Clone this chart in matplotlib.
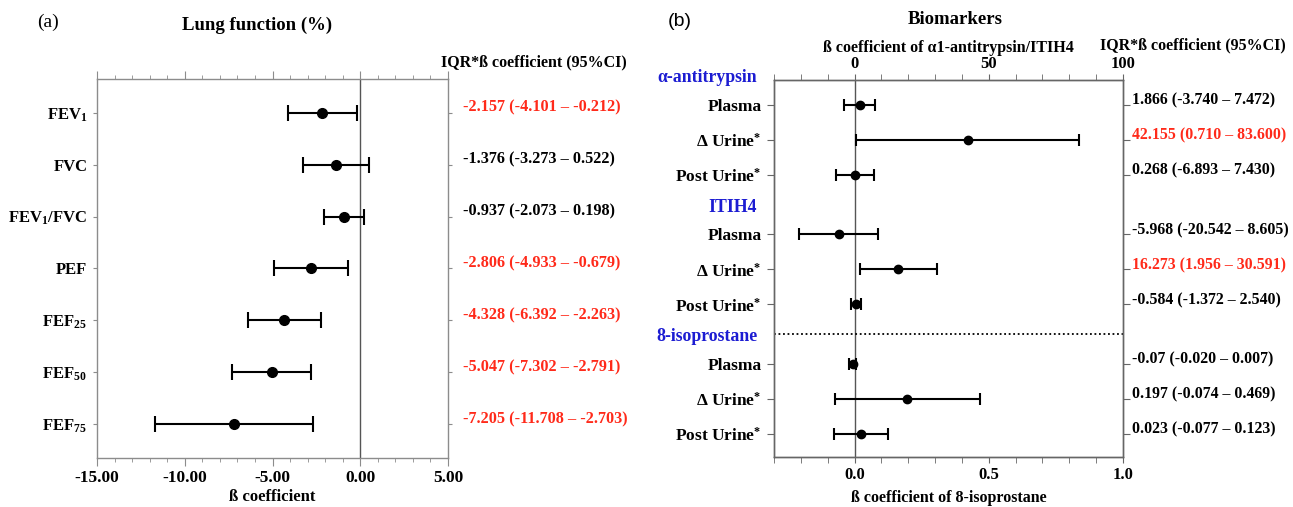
import matplotlib
matplotlib.use('Agg')
import matplotlib.pyplot as plt
import numpy as np
from matplotlib.ticker import MultipleLocator, FormatStrFormatter

plt.rcParams['font.family'] = ['Liberation Serif', 'DejaVu Serif']
plt.rcParams['font.weight'] = 'bold'
plt.rcParams['axes.labelweight'] = 'bold'
plt.rcParams['mathtext.fontset'] = 'custom'
plt.rcParams['mathtext.rm'] = 'Liberation Serif:bold'
plt.rcParams['mathtext.bf'] = 'Liberation Serif:bold'
plt.rcParams['mathtext.it'] = 'Liberation Serif:bold'

RED = '#ff2a1a'
BLUE = '#1c1cd2'
SPINE = '#8c8c8c'

# ---- (a) lung function ----
lung_labels = ['FEV$_{1}$', 'FVC', 'FEV$_{1}$/FVC', 'PEF', 'FEF$_{25}$', 'FEF$_{50}$', 'FEF$_{75}$']
lung_beta = [-2.157, -1.376, -0.937, -2.806, -4.328, -5.047, -7.205]
lung_lo = [-4.101, -3.273, -2.073, -4.933, -6.392, -7.302, -11.708]
lung_hi = [-0.212, 0.522, 0.198, -0.679, -2.263, -2.791, -2.703]
lung_text = ['-2.157 (-4.101 – -0.212)', '-1.376 (-3.273 – 0.522)', '-0.937 (-2.073 – 0.198)',
             '-2.806 (-4.933 – -0.679)', '-4.328 (-6.392 – -2.263)', '-5.047 (-7.302 – -2.791)',
             '-7.205 (-11.708 – -2.703)']
lung_sig = [True, False, False, True, True, True, True]

# ---- (b) biomarkers ----
groups = ['α-antitrypsin', 'ITIH4', '8-isoprostane']
bio_labels = ['Plasma', 'Δ Urine$^{*}$', 'Post Urine$^{*}$']
a1_beta = [1.866, 42.155, 0.268]
a1_lo = [-3.740, 0.710, -6.893]
a1_hi = [7.472, 83.600, 7.430]
itih4_beta = [-5.968, 16.273, 0.584]
itih4_lo = [-20.542, 1.956, -1.372]
itih4_hi = [8.605, 30.591, 2.540]
iso_beta = [-0.007, 0.197, 0.023]
iso_lo = [-0.020, -0.074, -0.077]
iso_hi = [0.007, 0.469, 0.123]
bio_text = ['1.866 (-3.740 – 7.472)', '42.155 (0.710 – 83.600)', '0.268 (-6.893 – 7.430)',
            '-5.968 (-20.542 – 8.605)', '16.273 (1.956 – 30.591)', '-0.584 (-1.372 – 2.540)',
            '-0.07 (-0.020 – 0.007)', '0.197 (-0.074 – 0.469)', '0.023 (-0.077 – 0.123)']
bio_sig = [False, True, False, False, True, False, False, False, False]

fig = plt.figure(figsize=(12.93, 5.07), dpi=100)


def style_spines(ax, color):
    for s in ax.spines.values():
        s.set_color(color)
        s.set_linewidth(1.0)


def errbars(ax, x, y, lo, hi, ms, cs):
    x = np.array(x)
    err = [x - np.array(lo), np.array(hi) - x]
    ax.errorbar(x, y, xerr=err, fmt='o', color='black', ms=ms, capsize=cs,
                elinewidth=1.5, capthick=1.5, zorder=3)


# ---------------- panel (a) ----------------
ax = fig.add_axes([97 / 1293, 1 - 458 / 507, 351 / 1293, 379 / 507])
y = np.arange(len(lung_labels))
ax.axvline(0, color='#555555', lw=1.0, zorder=1)
errbars(ax, lung_beta, y, lung_lo, lung_hi, ms=7, cs=5.5)
ax.set_xlim(-15, 5)
ax.set_ylim(len(lung_labels) - 0.35, -0.65)
ax.set_yticks(y)
ax.set_yticklabels(lung_labels, fontsize=12)
ax.xaxis.set_major_locator(MultipleLocator(5))
ax.xaxis.set_minor_locator(MultipleLocator(1))
ax.xaxis.set_major_formatter(FormatStrFormatter('%.2f'))
ax.tick_params(axis='x', which='major', direction='out', length=6, color=SPINE,
               top=True, bottom=True, labelsize=12.5, pad=3)
ax.tick_params(axis='x', which='minor', direction='out', length=3, color=SPINE, top=True, bottom=True)
ax.tick_params(axis='y', direction='out', length=3, color=SPINE, left=True, right=True, pad=4)
ax.set_xlabel('ß coefficient', fontsize=12, labelpad=2)
style_spines(ax, SPINE)
for i, t in enumerate(lung_text):
    ax.text(1.043, i - 0.1, t, transform=ax.get_yaxis_transform(), ha='left', va='center',
            fontsize=11.7, color=RED if lung_sig[i] else 'black')
fig.text(534 / 1293, 1 - 62 / 507, 'IQR*ß coefficient (95%CI)', ha='center', va='center', fontsize=11.5)
fig.text(257 / 1293, 1 - 25 / 507, 'Lung function (%)', ha='center', va='center', fontsize=13.5)
fig.text(48 / 1293, 1 - 22 / 507, '(a)', ha='center', va='center', fontsize=14, fontweight='normal')

# ---------------- panel (b) ----------------
bx = fig.add_axes([774 / 1293, 1 - 457 / 507, 349 / 1293, 377 / 507])
gap = 1.7
rows = []
for g in range(len(groups)):
    base = g * (len(bio_labels) - 1 + gap)
    rows.append(base + np.arange(len(bio_labels)))
bx.axvline(0, color='#555555', lw=1.0, zorder=1)
bx.set_xlim(-0.3, 1.0)
bx.set_ylim(rows[-1][-1] + 0.66, -0.71)
top = bx.twiny()
top.set_xlim(-30, 100)
errbars(top, a1_beta, rows[0], a1_lo, a1_hi, ms=6, cs=4.5)
errbars(top, itih4_beta, rows[1], itih4_lo, itih4_hi, ms=6, cs=4.5)
errbars(bx, iso_beta, rows[2], iso_lo, iso_hi, ms=6, cs=4.5)

allrows = np.concatenate(rows)
bx.set_yticks(allrows)
bx.set_yticklabels(bio_labels * len(groups), fontsize=12.5)
bx.tick_params(axis='y', direction='out', length=5, color='#666666', left=True, right=True, pad=4)
bx.xaxis.set_major_locator(MultipleLocator(0.5))
bx.xaxis.set_minor_locator(MultipleLocator(0.1))
bx.xaxis.set_major_formatter(FormatStrFormatter('%.1f'))
bx.tick_params(axis='x', which='both', direction='out', length=4, color='#666666', labelsize=12)
top.xaxis.set_major_locator(MultipleLocator(50))
top.xaxis.set_minor_locator(MultipleLocator(10))
top.tick_params(axis='x', which='both', direction='out', length=4, color='#666666', labelsize=12, pad=2)
bx.set_xlabel('ß coefficient of 8-isoprostane', fontsize=11.5, labelpad=5)
top.set_xlabel('ß coefficient of α1-antitrypsin/ITIH4', fontsize=11.5, labelpad=3)
style_spines(bx, '#666666')
style_spines(top, '#666666')

mid = (rows[1][-1] + rows[2][0]) / 2
bx.axhline(mid, color='black', lw=1.3, ls=(0, (1, 1.5)), zorder=1)
for g, name in enumerate(groups):
    bx.text(-0.048, rows[g][0] - 0.78, name, transform=bx.get_yaxis_transform(), ha='right', va='center',
            fontsize=12.8, color=BLUE)
for i, t in enumerate(bio_text):
    bx.text(1.026, allrows[i] - 0.12, t, transform=bx.get_yaxis_transform(), ha='left', va='center',
            fontsize=11.4, color=RED if bio_sig[i] else 'black')
fig.text(1193 / 1293, 1 - 45 / 507, 'IQR*ß coefficient (95%CI)', ha='center', va='center', fontsize=11.5)
fig.text(955 / 1293, 1 - 20 / 507, 'Biomarkers', ha='center', va='center', fontsize=13.5)
fig.text(680 / 1293, 1 - 22 / 507, '(b)', ha='center', va='center', fontsize=14, fontweight='normal',
         family=['Liberation Sans', 'DejaVu Sans'])

fig.savefig('out.png', dpi=100)
